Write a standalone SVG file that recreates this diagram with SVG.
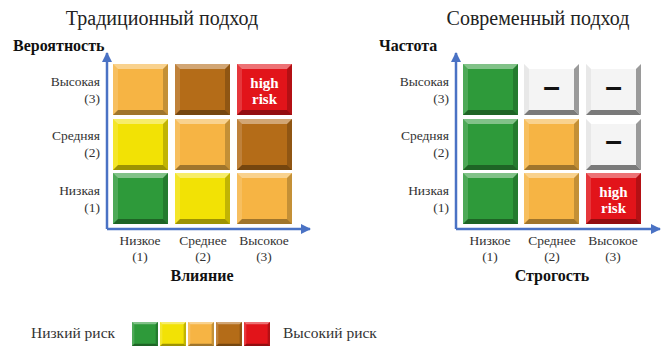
<svg xmlns="http://www.w3.org/2000/svg" xmlns:xlink="http://www.w3.org/1999/xlink" width="663" height="346" viewBox="0 0 663 346">
<style>
text{font-family:"Liberation Serif","Times New Roman",serif;fill:#222}
.title{font-size:20px}
.lbl{font-size:13.5px;fill:#333}
.leg{font-size:15.5px;fill:#333}
.axis{font-size:16px;font-weight:bold;fill:#111}
.hr{font-size:15px;font-weight:bold;fill:#fff}
.dash{font-family:"Liberation Sans",Arial,sans-serif;font-size:30px;font-weight:bold;fill:#111}
.ax{stroke:#4a72c4;stroke-width:2.5;fill:none}
.g{fill:#2e9a3a}.y{fill:#f2e205}.o{fill:#f6b444}.b{fill:#b46c18}.r{fill:#e2141a}.w{fill:#f4f4f4}
</style>
<defs>
<symbol id="bev" viewBox="0 0 55 51" preserveAspectRatio="none">
<polygon points="0,0 55,0 50,5 5,5" fill="#fff" fill-opacity="0.4"/>
<polygon points="0,0 5,5 5,46 0,51" fill="#fff" fill-opacity="0.15"/>
<polygon points="55,0 55,51 50,46 50,5" fill="#000" fill-opacity="0.2"/>
<polygon points="0,51 5,46 50,46 55,51" fill="#000" fill-opacity="0.35"/>
</symbol>
<symbol id="bevw" viewBox="0 0 55 51" preserveAspectRatio="none">
<polygon points="0,0 55,0 50,5 5,5" fill="#fff"/>
<polygon points="0,0 5,5 5,46 0,51" fill="#e8e8e8"/>
<polygon points="55,0 55,51 50,46 50,5" fill="#9a9a9a"/>
<polygon points="0,51 5,46 50,46 55,51" fill="#7a7a7a"/>
</symbol>
<marker id="arr" viewBox="0 0 10 10" refX="9" refY="5" markerWidth="4" markerHeight="4" orient="auto">
<path d="M0,0 L10,5 L0,10 z" fill="#4a72c4"/>
</marker>
</defs>

<text class="title" x="162" y="25" text-anchor="middle">Традиционный подход</text>
<text class="title" x="538" y="25" text-anchor="middle">Современный подход</text>

<g id="connectors">
<path class="ax" d="M107,229 L107,53" marker-end="url(#arr)"/>
<path class="ax" d="M107,229 L310,229" marker-end="url(#arr)"/>
<path class="ax" d="M456,229 L456,53" marker-end="url(#arr)"/>
<path class="ax" d="M456,229 L660,229" marker-end="url(#arr)"/>
</g>

<g id="left-labels">
<text class="axis" x="13" y="51">Вероятность</text>
<text class="lbl" x="100" y="86" text-anchor="end">Высокая</text>
<text class="lbl" x="100" y="103" text-anchor="end">(3)</text>
<text class="lbl" x="100" y="140" text-anchor="end">Средняя</text>
<text class="lbl" x="100" y="157" text-anchor="end">(2)</text>
<text class="lbl" x="100" y="195" text-anchor="end">Низкая</text>
<text class="lbl" x="100" y="212" text-anchor="end">(1)</text>
<text class="lbl" x="140" y="245" text-anchor="middle">Низкое</text>
<text class="lbl" x="140" y="261" text-anchor="middle">(1)</text>
<text class="lbl" x="203" y="245" text-anchor="middle">Среднее</text>
<text class="lbl" x="203" y="261" text-anchor="middle">(2)</text>
<text class="lbl" x="264" y="245" text-anchor="middle">Высокое</text>
<text class="lbl" x="264" y="261" text-anchor="middle">(3)</text>
<text class="axis" x="202" y="281" text-anchor="middle">Влияние</text>
</g>

<g id="left-grid">
<g id="L31"><rect class="o" x="113" y="64" width="55" height="51"/><use href="#bev" x="113" y="64" width="55" height="51"/></g>
<g id="L32"><rect class="b" x="175" y="64" width="55" height="51"/><use href="#bev" x="175" y="64" width="55" height="51"/></g>
<g id="L33"><rect class="r" x="237" y="64" width="55" height="51"/><use href="#bev" x="237" y="64" width="55" height="51"/>
<text class="hr" x="264.5" y="88" text-anchor="middle">high</text><text class="hr" x="264.5" y="104" text-anchor="middle">risk</text></g>
<g id="L21"><rect class="y" x="113" y="119" width="55" height="51"/><use href="#bev" x="113" y="119" width="55" height="51"/></g>
<g id="L22"><rect class="o" x="175" y="119" width="55" height="51"/><use href="#bev" x="175" y="119" width="55" height="51"/></g>
<g id="L23"><rect class="b" x="237" y="119" width="55" height="51"/><use href="#bev" x="237" y="119" width="55" height="51"/></g>
<g id="L11"><rect class="g" x="113" y="173" width="55" height="51"/><use href="#bev" x="113" y="173" width="55" height="51"/></g>
<g id="L12"><rect class="y" x="175" y="173" width="55" height="51"/><use href="#bev" x="175" y="173" width="55" height="51"/></g>
<g id="L13"><rect class="o" x="237" y="173" width="55" height="51"/><use href="#bev" x="237" y="173" width="55" height="51"/></g>
</g>

<g id="right-labels">
<text class="axis" x="379" y="51">Частота</text>
<text class="lbl" x="449" y="86" text-anchor="end">Высокая</text>
<text class="lbl" x="449" y="103" text-anchor="end">(3)</text>
<text class="lbl" x="449" y="140" text-anchor="end">Средняя</text>
<text class="lbl" x="449" y="157" text-anchor="end">(2)</text>
<text class="lbl" x="449" y="195" text-anchor="end">Низкая</text>
<text class="lbl" x="449" y="212" text-anchor="end">(1)</text>
<text class="lbl" x="490" y="245" text-anchor="middle">Низкое</text>
<text class="lbl" x="490" y="261" text-anchor="middle">(1)</text>
<text class="lbl" x="552" y="245" text-anchor="middle">Среднее</text>
<text class="lbl" x="552" y="261" text-anchor="middle">(2)</text>
<text class="lbl" x="613" y="245" text-anchor="middle">Высокое</text>
<text class="lbl" x="613" y="261" text-anchor="middle">(3)</text>
<text class="axis" x="552" y="281" text-anchor="middle">Строгость</text>
</g>

<g id="right-grid">
<g id="R31"><rect class="g" x="463" y="64" width="55" height="51"/><use href="#bev" x="463" y="64" width="55" height="51"/></g>
<g id="R32"><rect class="w" x="524" y="64" width="55" height="51"/><use href="#bevw" x="524" y="64" width="55" height="51"/><text class="dash" x="551.5" y="97" text-anchor="middle">–</text></g>
<g id="R33"><rect class="w" x="586" y="64" width="55" height="51"/><use href="#bevw" x="586" y="64" width="55" height="51"/><text class="dash" x="613.5" y="97" text-anchor="middle">–</text></g>
<g id="R21"><rect class="g" x="463" y="119" width="55" height="51"/><use href="#bev" x="463" y="119" width="55" height="51"/></g>
<g id="R22"><rect class="o" x="524" y="119" width="55" height="51"/><use href="#bev" x="524" y="119" width="55" height="51"/></g>
<g id="R23"><rect class="w" x="586" y="119" width="55" height="51"/><use href="#bevw" x="586" y="119" width="55" height="51"/><text class="dash" x="613.5" y="151" text-anchor="middle">–</text></g>
<g id="R11"><rect class="g" x="463" y="173" width="55" height="51"/><use href="#bev" x="463" y="173" width="55" height="51"/></g>
<g id="R12"><rect class="o" x="524" y="173" width="55" height="51"/><use href="#bev" x="524" y="173" width="55" height="51"/></g>
<g id="R13"><rect class="r" x="586" y="173" width="55" height="51"/><use href="#bev" x="586" y="173" width="55" height="51"/>
<text class="hr" x="613.5" y="197" text-anchor="middle">high</text><text class="hr" x="613.5" y="213" text-anchor="middle">risk</text></g>
</g>

<g id="legend">
<text class="leg" x="31" y="338">Низкий риск</text>
<rect class="g" x="132" y="322" width="26" height="24"/><use href="#bev" x="132" y="322" width="26" height="24"/>
<rect class="y" x="160" y="322" width="26" height="24"/><use href="#bev" x="160" y="322" width="26" height="24"/>
<rect class="o" x="188" y="322" width="26" height="24"/><use href="#bev" x="188" y="322" width="26" height="24"/>
<rect class="b" x="216" y="322" width="26" height="24"/><use href="#bev" x="216" y="322" width="26" height="24"/>
<rect class="r" x="244" y="322" width="26" height="24"/><use href="#bev" x="244" y="322" width="26" height="24"/>
<text class="leg" x="283" y="338">Высокий риск</text>
</g>
</svg>
